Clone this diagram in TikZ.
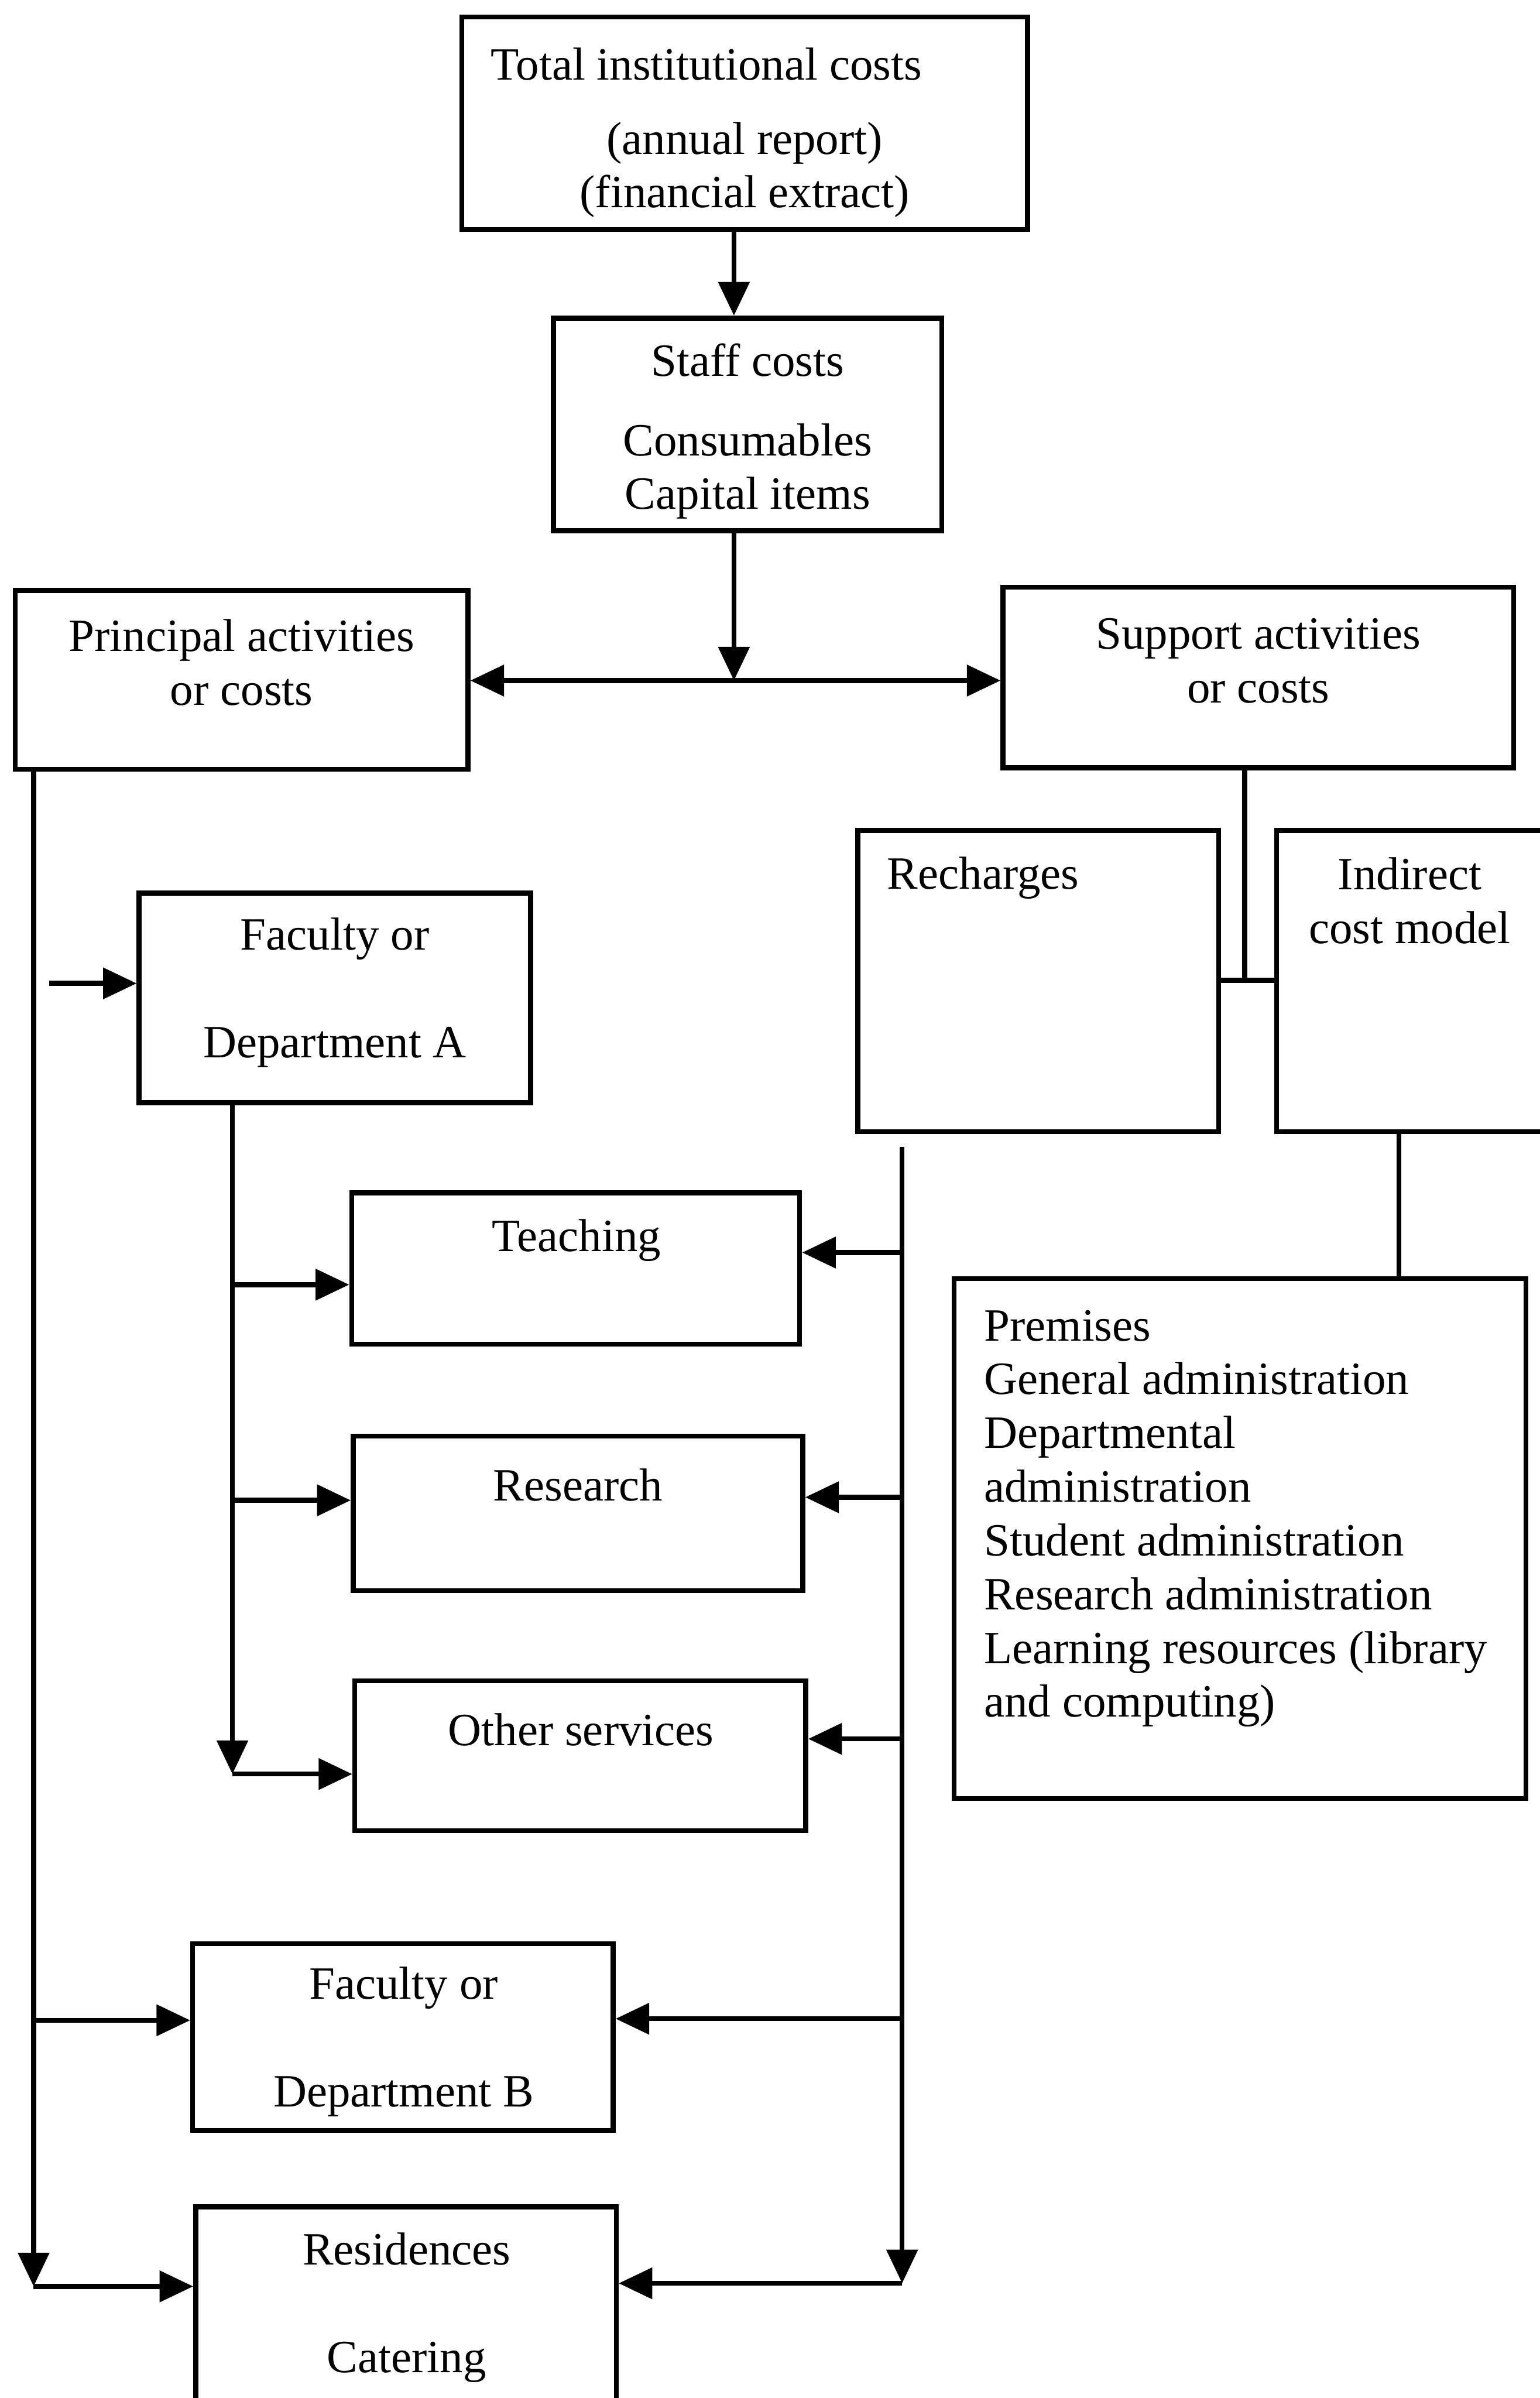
\documentclass[tikz,border=0pt]{standalone}
\usepackage{fontspec}
\setmainfont{Liberation Serif}
\usetikzlibrary{arrows.meta,fit}

\tikzset{
	every node/.style={font=\fontsize{21.5}{25}\selectfont},
	box/.style={draw, inner sep=0pt},
	txt/.style={align=center, inner sep=0pt},
	arr/.style={->},
}

\begin{document}
\begin{tikzpicture}[x=0.025cm, y=-0.025cm, line width=2.3pt, >={Triangle[length=0.55cm,width=0.5cm]}]
	\useasboundingbox (0,0) rectangle (1007,1568);
	% boxes
	\node (total) [box, fit={(302,11) (672,150)}] {};
	\node (staff) [box, fit={(362,208) (616,347)}] {};
	\node (principal) [box, fit={(10,386) (306,503)}] {};
	\node (support) [box, fit={(656,384) (990,502)}] {};
	\node (recharges) [box, fit={(561,543) (797,740)}] {};
	\node (indirect) [box, fit={(835,543) (1012,740)}] {};
	\node (premises) [box, fit={(624,836) (998,1176)}] {};
	\node (facA) [box, fit={(91,584) (347,721)}] {};
		\node (teaching) [box, fit={(230,780) (523,879)}] {};
		\node (research) [box, fit={(231,939) (525,1040)}] {};
		\node (other) [box, fit={(232,1099) (527,1197)}] {};
	\node (facB) [box, fit={(126,1271) (401,1393)}] {};
	\node (residences) [box, fit={(128,1443) (403,1580)}] {};
	% texts
	\node (total-t1) [txt] at (462,42) {Total institutional costs};
	\node (total-t2) [txt] at (487,111) {(annual report)\\(financial extract)};
	\node (staff-t) [txt] at (489,282) {Staff costs\\[12pt]Consumables\\Capital items};
	\node (principal-t) [txt] at (158,433) {Principal activities\\or costs};
	\node (support-t) [txt] at (823,432) {Support activities\\or costs};
	\node (recharges-t) [txt] at (643,574) {Recharges};
	\node (indirect-t) [txt] at (922,589) {Indirect\\cost model};
	\node (premises-t) [txt, align=left, anchor=north west] at (642,855) {Premises\\General administration\\Departmental\\administration\\Student administration\\Research administration\\Learning resources (library\\and computing)};
	\node (facA-t) [txt] at (219,649) {Faculty or\\[25pt]Department A};
	\node (teaching-t) [txt] at (377,811) {Teaching};
	\node (research-t) [txt] at (378,971) {Research};
	\node (other-t) [txt] at (380,1131) {Other services};
	\node (facB-t) [txt] at (264,1335) {Faculty or\\[25pt]Department B};
	\node (residences-t) [txt] at (266,1509) {Residences\\[25pt]Catering};
	% points on the lines
	\coordinate (j) at (480,445);
	\coordinate (k) at (814,641);
	\coordinate (i1) at (915,740);
	\coordinate (la) at (32,643);
	\coordinate (lb) at (22,1321);
	\coordinate (l1) at (22,1495);
	\coordinate (a1) at (152,840);
	\coordinate (a2) at (152,981);
	\coordinate (a3) at (152,1160);
	\coordinate (r0) at (590,750);
	\coordinate (r1) at (590,819);
	\coordinate (r2) at (590,979);
	\coordinate (r3) at (590,1137);
	\coordinate (rb) at (590,1320);
	\coordinate (r4) at (590,1493);
	% connectors
	\draw[arr] (total.south -| j) -- (staff.north -| j);
	\draw[arr] (staff.south -| j) -- (j);
	\draw[<->] (principal.east |- j) -- (support.west |- j);
	\draw (support.south -| k) -- (k)
		  (recharges.east |- k) -- (indirect.west |- k)
		  (indirect.south -| i1) -- (premises.north -| i1);
	\draw[arr] (la) -- (facA.west |- la);
	\draw[arr] (principal.south -| l1) -- (l1);
	\draw[arr] (lb) -- (facB.west |- lb);
	\draw[arr] (l1) -- (residences.west |- l1);
	\draw[arr] (facA.south -| a3) -- (a3);
	\draw[arr] (a1) -- (teaching.west |- a1);
	\draw[arr] (a2) -- (research.west |- a2);
	\draw[arr] (a3) -- (other.west |- a3);
	\draw[arr] (r0) -- (r4);
	\draw[arr] (r1) -- (teaching.east |- r1);
	\draw[arr] (r2) -- (research.east |- r2);
	\draw[arr] (r3) -- (other.east |- r3);
	\draw[arr] (rb) -- (facB.east |- rb);
	\draw[arr] (r4) -- (residences.east |- r4);
\end{tikzpicture}
\end{document}
